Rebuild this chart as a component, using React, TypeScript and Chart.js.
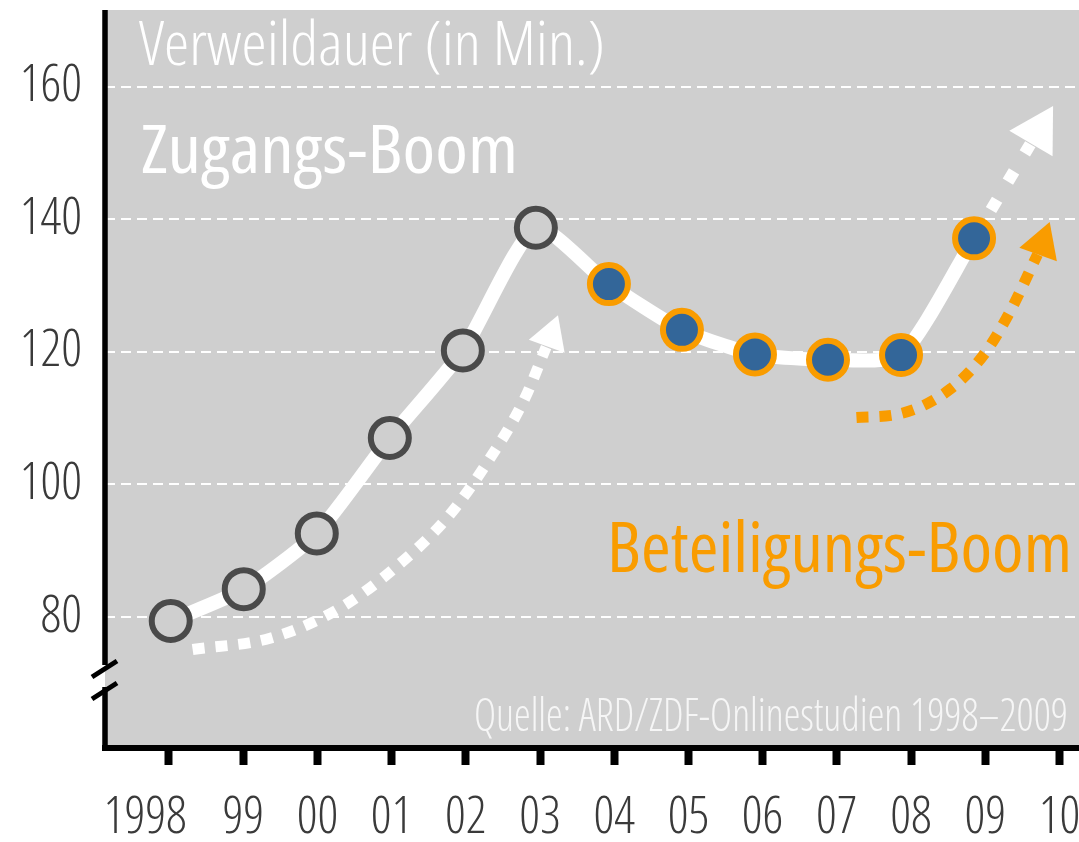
import React, { useEffect, useRef } from 'react';
import { Chart, registerables } from 'chart.js';

Chart.register(...registerables);

// ---- data ----
const yearLabels = ['1998', '99', '00', '01', '02', '03', '04', '05', '06', '07', '08', '09', '10'];
const dwellMinutes = [79.4, 84.2, 92.6, 107.0, 120.2, 138.7, 130.2, 123.3, 119.6, 118.8, 119.5, 137.1];
const boomPhase = ['Zugang', 'Zugang', 'Zugang', 'Zugang', 'Zugang', 'Zugang', 'Beteiligung', 'Beteiligung', 'Beteiligung', 'Beteiligung', 'Beteiligung', 'Beteiligung'];
const yTickValues = [80, 100, 120, 140, 160];

// dotted trend arrows (data coordinates: x = year index, y = minutes)
const accessArrowX = [0.3, 1.36, 2.28, 3.07, 3.78, 4.34, 4.85, 5.14];
const accessArrowY = [75.1, 76.8, 81.1, 87.4, 94.9, 103.4, 113.0, 120.7];
const accessHead = [5.2, 122.4, 20]; // x, y, rotation

const futureArrowX = [11.0, 11.77];
const futureArrowY = [137.1, 151.3];
const futureHead = [11.88, 153.3, 30.6];

const participationArrowX = [9.39, 9.97, 10.69, 11.15, 11.49, 11.87];
const participationArrowY = [110.1, 110.6, 114.5, 119.8, 126.0, 134.7];
const participationHead = [11.93, 136.3, 19.6];

const titleText = 'Verweildauer (in Min.)';
const accessText = 'Zugangs-Boom';
const participationText = 'Beteiligungs-Boom';
const sourceText = 'Quelle: ARD/ZDF-Onlinestudien 1998–2009';

// ---- styles ----
const GREY = '#cfcfcf';
const ORANGE = '#f99c00';
const BLUE = '#336699';
const RING = '#4a4a4a';
const LABEL = '#3a3a3a';
const FAMILY = "'Open Sans', 'DejaVu Sans Condensed', sans-serif";

function fittedText(ctx: CanvasRenderingContext2D, text: string, x: number, y: number, width: number, size: number, weight: string, color: string) {
  ctx.save();
  ctx.font = `${weight} condensed ${size}px ${FAMILY}`;
  ctx.fillStyle = color;
  ctx.textAlign = 'left';
  ctx.textBaseline = 'alphabetic';
  const w = ctx.measureText(text).width;
  ctx.translate(x, y);
  ctx.scale(width / w, 1);
  ctx.fillText(text, 0, 0);
  ctx.restore();
}

const decorPlugin = {
  id: 'decor',
  beforeDraw(chart: any) {
    const { ctx, chartArea: a } = chart;
    ctx.save();
    ctx.fillStyle = GREY;
    ctx.fillRect(a.left, a.top, a.right - a.left, a.bottom - a.top);
    ctx.restore();
  },
  afterDraw(chart: any) {
    const { ctx, chartArea: a } = chart;
    ctx.save();
    ctx.strokeStyle = '#000';
    ctx.lineCap = 'butt';
    ctx.lineWidth = 5.5;
    ctx.beginPath();
    ctx.moveTo(a.left, a.top);
    ctx.lineTo(a.left, 665);
    ctx.moveTo(a.left, 687);
    ctx.lineTo(a.left, a.bottom + 3);
    ctx.stroke();
    ctx.lineWidth = 5;
    ctx.beginPath();
    ctx.moveTo(92, 677);
    ctx.lineTo(117, 661);
    ctx.moveTo(92, 699);
    ctx.lineTo(117, 683);
    ctx.stroke();
    ctx.restore();

    fittedText(ctx, titleText, 139, 65, 466, 60, '300', '#ffffff');
    fittedText(ctx, accessText, 141, 173, 377, 67, '400', '#ffffff');
    fittedText(ctx, participationText, 607, 572, 465, 70, '400', ORANGE);
    fittedText(ctx, sourceText, 474, 731, 594, 46, '300', '#f6f6f6');
  },
};

function arrowLine(xs: number[], ys: number[], color: string, width: number, dash: number[]) {
  return {
    type: 'line',
    data: xs.map((x, i) => ({ x, y: ys[i] })),
    xAxisID: 'x',
    yAxisID: 'y',
    borderColor: color,
    borderWidth: width,
    borderDash: dash,
    borderCapStyle: 'butt',
    cubicInterpolationMode: 'monotone',
    pointRadius: 0,
    fill: false,
    order: 2,
    clip: false,
  };
}

function arrowHead(h: number[], color: string, r: number) {
  return {
    type: 'line',
    data: [{ x: h[0], y: h[1] }],
    xAxisID: 'x',
    yAxisID: 'y',
    showLine: false,
    pointStyle: 'triangle',
    pointRadius: r,
    pointRotation: h[2],
    pointBackgroundColor: color,
    pointBorderWidth: 0,
    order: 2,
    clip: false,
  };
}

export default function App() {
  const ref = useRef<HTMLCanvasElement | null>(null);

  useEffect(() => {
    if (!ref.current) return;
    const chart = new Chart(ref.current, {
      type: 'line',
      data: {
        datasets: [
          {
            type: 'line',
            label: 'Verweildauer',
            data: dwellMinutes.map((v, i) => ({ x: i, y: v })),
            xAxisID: 'x',
            yAxisID: 'y',
            borderColor: '#ffffff',
            borderWidth: 14,
            tension: 0.2,
            pointRadius: 19,
            pointBorderWidth: 6,
            pointBackgroundColor: boomPhase.map((p) => (p === 'Zugang' ? GREY : BLUE)),
            pointBorderColor: boomPhase.map((p) => (p === 'Zugang' ? RING : ORANGE)),
            fill: false,
            order: 0,
            clip: false,
          } as any,
          arrowLine(accessArrowX, accessArrowY, '#ffffff', 11, [12, 11]) as any,
          arrowHead(accessHead, '#ffffff', 22) as any,
          arrowLine(futureArrowX, futureArrowY, '#ffffff', 12, [12, 21]) as any,
          arrowHead(futureHead, '#ffffff', 29) as any,
          arrowLine(participationArrowX, participationArrowY, ORANGE, 11, [12, 11]) as any,
          arrowHead(participationHead, ORANGE, 23) as any,
        ],
      },
      options: {
        animation: false,
        responsive: false,
        devicePixelRatio: 1,
        layout: { autoPadding: false, padding: { top: 10, right: 0, left: 0, bottom: 0 } },
        plugins: { legend: { display: false }, tooltip: { enabled: false } },
        scales: {
          x: {
            type: 'linear',
            display: false,
            min: -0.9,
            max: 12.437,
          },
          xt: {
            type: 'linear',
            axis: 'x',
            position: 'bottom',
            min: -0.8625,
            max: 12.264,
            afterBuildTicks: (scale: any) => {
              scale.ticks = yearLabels.map((_, i) => ({ value: i }));
            },
            afterFit: (scale: any) => {
              scale.height = 94;
              scale.paddingLeft = 0;
              scale.paddingRight = 0;
              scale.paddingTop = 0;
              scale.paddingBottom = 0;
            },
            grid: {
              display: true,
              drawOnChartArea: false,
              drawTicks: true,
              tickLength: 17,
              tickWidth: 8,
              tickColor: '#000000',
              color: '#000000',
            },
            border: { display: true, color: '#000000', width: 6 },
            ticks: {
              autoSkip: false,
              maxRotation: 0,
              padding: 23,
              color: LABEL,
              font: { family: FAMILY, size: 51, weight: '300 condensed' },
              callback: (value: any, index: number) => (index === 0 ? yearLabels[value] + '     ' : yearLabels[value]),
            },
          },
          y: {
            type: 'linear',
            position: 'left',
            min: 60.24,
            max: 171.54,
            afterBuildTicks: (scale: any) => {
              scale.ticks = yTickValues.map((v) => ({ value: v }));
            },
            afterFit: (scale: any) => {
              scale.width = 105;
              scale.paddingLeft = 0;
              scale.paddingRight = 0;
              scale.paddingTop = 0;
              scale.paddingBottom = 0;
            },
            grid: {
              display: true,
              drawOnChartArea: true,
              drawTicks: false,
              color: '#ffffff',
              lineWidth: 2,
            },
            border: { display: false, dash: [10, 6] },
            ticks: {
              padding: 23,
              color: LABEL,
              font: { family: FAMILY, size: 51, weight: '300 condensed' },
              callback: (value: any) => String(value),
            },
          },
        },
      } as any,
      plugins: [decorPlugin],
    });
    return () => chart.destroy();
  }, []);

  return (
    <div style={{ position: 'fixed', left: 0, top: 0, width: 1079, height: 842, background: '#ffffff' }}>
      <canvas ref={ref} width={1079} height={842} style={{ width: 1079, height: 842, display: 'block' }} />
    </div>
  );
}
